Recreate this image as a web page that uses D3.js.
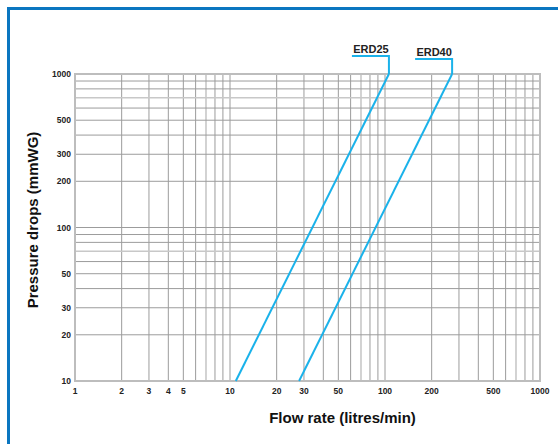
<!DOCTYPE html>
<html>
<head>
<meta charset="utf-8">
<script src="https://cdn.jsdelivr.net/npm/d3@7"></script>
<style>
  body { margin: 0; background: #fff; }
  svg { display: block; font-family: "Liberation Sans", Arial, sans-serif; }
</style>
</head>
<body>
<div id="chart"></div>
<script>
// flow rate (litres/min) vs pressure drop (mmWG)
const seriesNames = ["ERD25", "ERD40"];
const flowValues = [[10.9, 106], [27.9, 271]];
const pressureValues = [[10, 1000], [10, 1000]];
const xTickLabels = [1, 2, 3, 4, 5, 10, 20, 30, 50, 100, 200, 500, 1000];
const yTickLabels = [10, 20, 30, 50, 100, 200, 300, 500, 1000];

const width = 558, height = 444;
const svg = d3.select("#chart").append("svg")
    .attr("width", width)
    .attr("height", height);

// blue frame, runs off the right and bottom edges
svg.append("rect")
    .attr("x", 8.5).attr("y", 8.5)
    .attr("width", 600).attr("height", 500)
    .attr("fill", "none")
    .attr("stroke", "#0b76c0")
    .attr("stroke-width", 3);

const x = d3.scaleLog().domain([1, 1000]).range([75, 540]);
const y = d3.scaleLog().domain([10, 1000]).range([381, 74]);

// every 1..9 multiple in each decade
const gridX = x.ticks(30).filter(d => d > 1 && d < 1000);
const gridY = y.ticks(30).filter(d => d > 10 && d < 1000);
const lead = d => +String(d)[0];

const grid = svg.append("g");
grid.selectAll(".gx")
    .data(gridX)
    .enter()
    .append("line")
    .attr("x1", d => x(d)).attr("x2", d => x(d))
    .attr("y1", y(1000)).attr("y2", y(10))
    .attr("stroke", d => lead(d) === 7 ? "#c8c8c8" : "#9c9c9c")
    .attr("stroke-width", d => lead(d) === 7 ? 1.6 : 1);
grid.selectAll(".gy")
    .data(gridY)
    .enter()
    .append("line")
    .attr("y1", d => y(d)).attr("y2", d => y(d))
    .attr("x1", x(1)).attr("x2", x(1000))
    .attr("stroke", d => lead(d) === 7 ? "#c8c8c8" : "#9c9c9c")
    .attr("stroke-width", d => lead(d) === 7 ? 1.6 : 1);

svg.append("rect")
    .attr("x", x(1)).attr("y", y(1000))
    .attr("width", x(1000) - x(1)).attr("height", y(10) - y(1000))
    .attr("fill", "none")
    .attr("stroke", "#bdbdbd")
    .attr("stroke-width", 2);

// tick labels
svg.append("g").selectAll("text")
    .data(xTickLabels)
    .enter()
    .append("text")
    .attr("x", d => x(d))
    .attr("y", 394)
    .attr("text-anchor", "middle")
    .style("font-size", "8.5px")
    .style("font-weight", "bold")
    .attr("fill", "#222")
    .text(d => d);

svg.append("g").selectAll("text")
    .data(yTickLabels)
    .enter()
    .append("text")
    .attr("x", 71)
    .attr("y", d => y(d) + 3)
    .attr("text-anchor", "end")
    .style("font-size", "8.5px")
    .style("font-weight", "bold")
    .attr("fill", "#222")
    .text(d => d);

// series lines
const line = d3.line().x(d => x(d[0])).y(d => y(d[1]));
seriesNames.forEach((name, i) => {
    const pts = flowValues[i].map((f, j) => [f, pressureValues[i][j]]);
    svg.append("path")
        .attr("d", line(pts))
        .attr("fill", "none")
        .attr("stroke", "#1ab2ea")
        .attr("stroke-width", 2);

    // leader up to the label
    const top = pts[pts.length - 1];
    const tx = x(top[0]), ty = y(top[1]);
    const rise = i === 0 ? 18 : 15;
    svg.append("path")
        .attr("d", `M${tx},${ty}V${ty - rise}H${tx - 37}`)
        .attr("fill", "none")
        .attr("stroke", "#1ab2ea")
        .attr("stroke-width", 2);
    svg.append("text")
        .attr("x", tx - 18)
        .attr("y", ty - rise - 3)
        .attr("text-anchor", "middle")
        .style("font-size", "11px")
        .style("font-weight", "bold")
        .attr("fill", "#222")
        .text(name);
});

// axis titles
svg.append("text")
    .attr("x", (x(1) + x(1000)) / 2 + 35)
    .attr("y", 423)
    .attr("text-anchor", "middle")
    .style("font-size", "15px")
    .style("font-weight", "bold")
    .attr("fill", "#111")
    .text("Flow rate (litres/min)");

svg.append("text")
    .attr("transform", "translate(38,220) rotate(-90)")
    .attr("text-anchor", "middle")
    .style("font-size", "15px")
    .style("font-weight", "bold")
    .attr("fill", "#111")
    .text("Pressure drops (mmWG)");
</script>
</body>
</html>
